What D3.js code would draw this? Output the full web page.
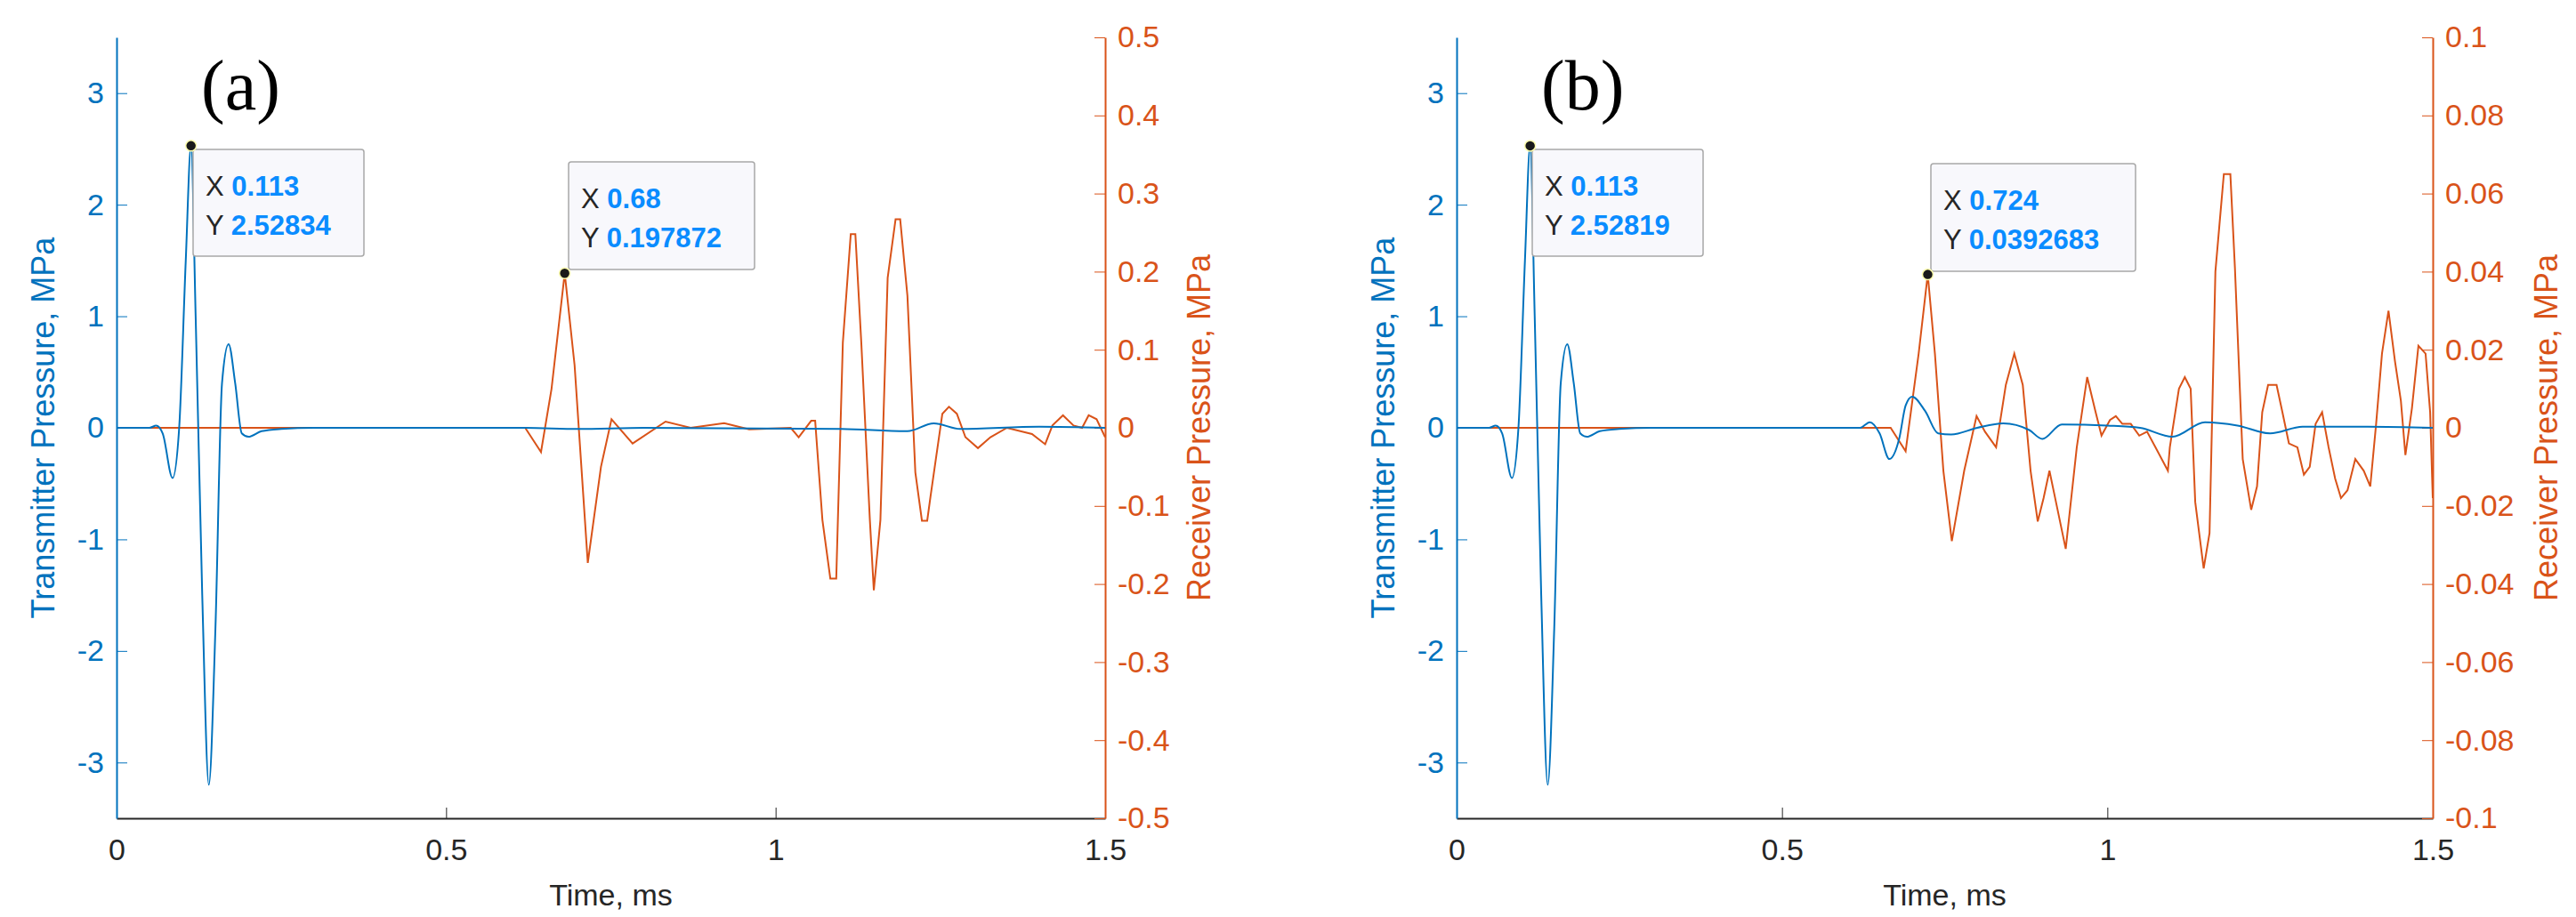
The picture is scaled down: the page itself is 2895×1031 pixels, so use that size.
<!DOCTYPE html>
<html><head><meta charset="utf-8">
<script src="https://cdn.jsdelivr.net/npm/d3@7"></script>
<style>body{margin:0;background:#fff}text{font-family:"Liberation Sans",Arial,sans-serif}</style>
</head><body><svg id="c" width="2895" height="1031"></svg>
<script>
const txA=[[0,0],[0.05,0],[0.06,0.02],[0.07,-0.05],[0.085,-0.45],[0.095,0],[0.105,1.5],[0.113,2.53],[0.12,1.0],[0.13,-1.5],[0.14,-3.2],[0.15,-1.8],[0.16,0.4],[0.17,0.75],[0.18,0.4],[0.19,-0.05],[0.2,-0.08],[0.22,-0.03],[0.25,-0.01],[0.3,0],[0.62,0],[0.7,-0.01],[0.8,0],[1.1,-0.01],[1.2,-0.03],[1.24,0.04],[1.28,-0.01],[1.4,0.01],[1.5,0]];
const txB=[[0,0],[0.05,0],[0.06,0.02],[0.07,-0.05],[0.085,-0.45],[0.095,0],[0.105,1.5],[0.113,2.53],[0.12,1.0],[0.13,-1.5],[0.14,-3.2],[0.15,-1.8],[0.16,0.4],[0.17,0.75],[0.18,0.4],[0.19,-0.05],[0.2,-0.08],[0.22,-0.03],[0.25,-0.01],[0.3,0],[0.62,0],[0.635,0.05],[0.65,-0.05],[0.665,-0.28],[0.68,-0.1],[0.69,0.2],[0.7,0.28],[0.72,0.15],[0.74,-0.05],[0.76,-0.06],[0.8,0],[0.84,0.04],[0.88,-0.02],[0.9,-0.1],[0.93,0.03],[1.0,0.02],[1.05,0],[1.1,-0.08],[1.15,0.05],[1.2,0.02],[1.25,-0.05],[1.3,0.01],[1.4,0.01],[1.5,0]];
const rxA=[[0,0],[0.62,0],[0.644,-0.031],[0.66,0.05],[0.68,0.198],[0.695,0.08],[0.715,-0.173],[0.735,-0.05],[0.751,0.011],[0.783,-0.02],[0.833,0.008],[0.871,0],[0.922,0.006],[0.96,-0.002],[1.023,0],[1.035,-0.012],[1.054,0.009],[1.06,0.009],[1.071,-0.118],[1.083,-0.193],[1.092,-0.193],[1.102,0.109],[1.114,0.248],[1.121,0.248],[1.13,0.109],[1.143,-0.118],[1.149,-0.208],[1.159,-0.118],[1.17,0.192],[1.182,0.267],[1.189,0.267],[1.2,0.169],[1.212,-0.057],[1.222,-0.119],[1.23,-0.119],[1.235,-0.088],[1.244,-0.035],[1.253,0.018],[1.263,0.027],[1.275,0.018],[1.288,-0.012],[1.307,-0.026],[1.326,-0.012],[1.351,0],[1.389,-0.008],[1.409,-0.021],[1.42,0.003],[1.436,0.016],[1.452,0.003],[1.465,0],[1.475,0.016],[1.487,0.011],[1.5,-0.012]];
const rxB=[[0,0],[0.667,0],[0.69,-0.006],[0.71,0.019],[0.724,0.0393],[0.735,0.019],[0.748,-0.011],[0.761,-0.029],[0.78,-0.011],[0.799,0.003],[0.812,-0.001],[0.829,-0.005],[0.844,0.011],[0.857,0.019],[0.87,0.011],[0.882,-0.011],[0.893,-0.024],[0.902,-0.018],[0.911,-0.011],[0.921,-0.019],[0.936,-0.031],[0.953,-0.005],[0.969,0.013],[0.982,0.004],[0.991,-0.002],[1.004,0.002],[1.013,0.003],[1.023,0.001],[1.036,0.001],[1.049,-0.002],[1.061,-0.001],[1.074,-0.005],[1.093,-0.011],[1.096,-0.005],[1.11,0.01],[1.119,0.013],[1.128,0.01],[1.135,-0.019],[1.148,-0.036],[1.157,-0.027],[1.166,0.04],[1.179,0.065],[1.189,0.065],[1.196,0.041],[1.208,-0.008],[1.221,-0.021],[1.23,-0.015],[1.238,0.004],[1.247,0.011],[1.26,0.011],[1.269,0.004],[1.279,-0.004],[1.292,-0.005],[1.302,-0.012],[1.311,-0.01],[1.32,0.001],[1.33,0.004],[1.34,-0.005],[1.35,-0.013],[1.359,-0.018],[1.369,-0.016],[1.381,-0.008],[1.394,-0.011],[1.404,-0.015],[1.413,0.001],[1.422,0.019],[1.432,0.03],[1.442,0.017],[1.451,0.007],[1.458,-0.007],[1.468,0.005],[1.478,0.021],[1.489,0.019],[1.496,0.004],[1.5,-0.018]];
const xTicks=[0,0.5,1,1.5];
const leftTicks=[-3,-2,-1,0,1,2,3];
const rightTicksA=[-0.5,-0.4,-0.3,-0.2,-0.1,0,0.1,0.2,0.3,0.4,0.5];
const rightTicksB=[-0.1,-0.08,-0.06,-0.04,-0.02,0,0.02,0.04,0.06,0.08,0.1];
const tipsA=[{x:0.113,y:2.52834,axis:"L",lab:["0.113","2.52834"],box:[217,168,192,120]},{x:0.68,y:0.197872,axis:"R",lab:["0.68","0.197872"],box:[639,182,209,121]}];
const tipsB=[{x:0.113,y:2.52819,axis:"L",lab:["0.113","2.52819"],box:[272,168,192,120]},{x:0.724,y:0.0392683,axis:"R",lab:["0.724","0.0392683"],box:[720,184,230,121]}];
const BLUE="#0072BD",ORANGE="#D95319";
const fmt=d=>String(d);
const svg=d3.select("#c");
function panel(ox,x0,x1,tx,rx,rmax,rTicks,tips,letter,rlabOff){
  const g=svg.append("g").attr("transform",`translate(${ox},0)`);
  const top=42,bot=920;
  const x=d3.scaleLinear().domain([0,1.5]).range([x0,x1]);
  const yl=d3.scaleLinear().domain([-3.5,3.5]).range([bot,top]);
  const yr=d3.scaleLinear().domain([-rmax,rmax]).range([bot,top]);
  const ax=g.append("g").attr("transform",`translate(0,${bot})`).call(d3.axisBottom(x).tickValues(xTicks).tickSize(-12).tickSizeOuter(0).tickFormat(fmt));
  ax.select(".domain").attr("stroke","#262626").attr("stroke-width",2);
  ax.selectAll(".tick line").attr("stroke","#262626");
  ax.selectAll("text").attr("font-size",34).attr("fill","#262626").attr("dy",44);
  const al=g.append("g").attr("transform",`translate(${x0},0)`).call(d3.axisLeft(yl).tickValues(leftTicks).tickSize(-12).tickSizeOuter(0).tickFormat(fmt));
  al.select(".domain").attr("stroke",BLUE).attr("stroke-width",2);
  al.selectAll(".tick line").attr("stroke",BLUE);
  al.selectAll("text").attr("font-size",34).attr("fill",BLUE).attr("x",-14);
  const ar=g.append("g").attr("transform",`translate(${x1},0)`).call(d3.axisRight(yr).tickValues(rTicks).tickSize(-12).tickSizeOuter(0).tickFormat(fmt));
  ar.select(".domain").attr("stroke",ORANGE).attr("stroke-width",2);
  ar.selectAll(".tick line").attr("stroke",ORANGE);
  ar.selectAll("text").attr("font-size",34).attr("fill",ORANGE).attr("x",14);
  g.append("text").attr("x",(x0+x1)/2).attr("y",1018).attr("text-anchor","middle").attr("font-size",34).attr("fill","#262626").text("Time, ms");
  g.append("text").attr("transform",`translate(${x0-70},${(top+bot)/2}) rotate(-90)`).attr("text-anchor","middle").attr("font-size",36).attr("fill",BLUE).text("Transmitter Pressure, MPa");
  g.append("text").attr("transform",`translate(${x1+rlabOff},${(top+bot)/2}) rotate(-90)`).attr("text-anchor","middle").attr("font-size",36).attr("fill",ORANGE).text("Receiver Pressure, MPa");
  g.append("path").datum(rx).attr("fill","none").attr("stroke",ORANGE).attr("stroke-width",2).attr("d",d3.line().x(d=>x(d[0])).y(d=>yr(d[1])));
  g.append("path").datum(tx).attr("fill","none").attr("stroke",BLUE).attr("stroke-width",2).attr("d",d3.line().curve(d3.curveMonotoneX).x(d=>x(d[0])).y(d=>yl(d[1])));
  g.append("text").attr("x",x0+95).attr("y",123).style("font-family","'Liberation Serif','Times New Roman',serif").attr("font-size",80).attr("fill","#000").text(letter);
  tips.forEach(t=>{
    const px=x(t.x),py=t.axis==="L"?yl(t.y):yr(t.y);
    const [bx,by,bw,bh]=t.box;
    g.append("rect").attr("x",bx).attr("y",by).attr("width",bw).attr("height",bh).attr("rx",3).attr("fill","#f8f8fc").attr("stroke","#a8a8a8").attr("stroke-width",1.5);
    g.append("circle").attr("cx",px).attr("cy",py).attr("r",6).attr("fill","#1a1a1a").attr("stroke","#ffffb0").attr("stroke-width",1.5);
    ["X","Y"].forEach((k,i)=>{
      const tt=g.append("text").attr("x",bx+14).attr("y",by+52+i*44).attr("font-size",31);
      tt.append("tspan").attr("fill","#262626").text(k+" ");
      tt.append("tspan").attr("fill","#0a8cff").attr("font-weight","bold").text(t.lab[i]);
    });
  });
}
panel(0,131,1242,txA,rxA,0.5,rightTicksA,tipsA,"(a)",118);
panel(1450,187,1284,txB,rxB,0.1,rightTicksB,tipsB,"(b)",140);
</script></body></html>
